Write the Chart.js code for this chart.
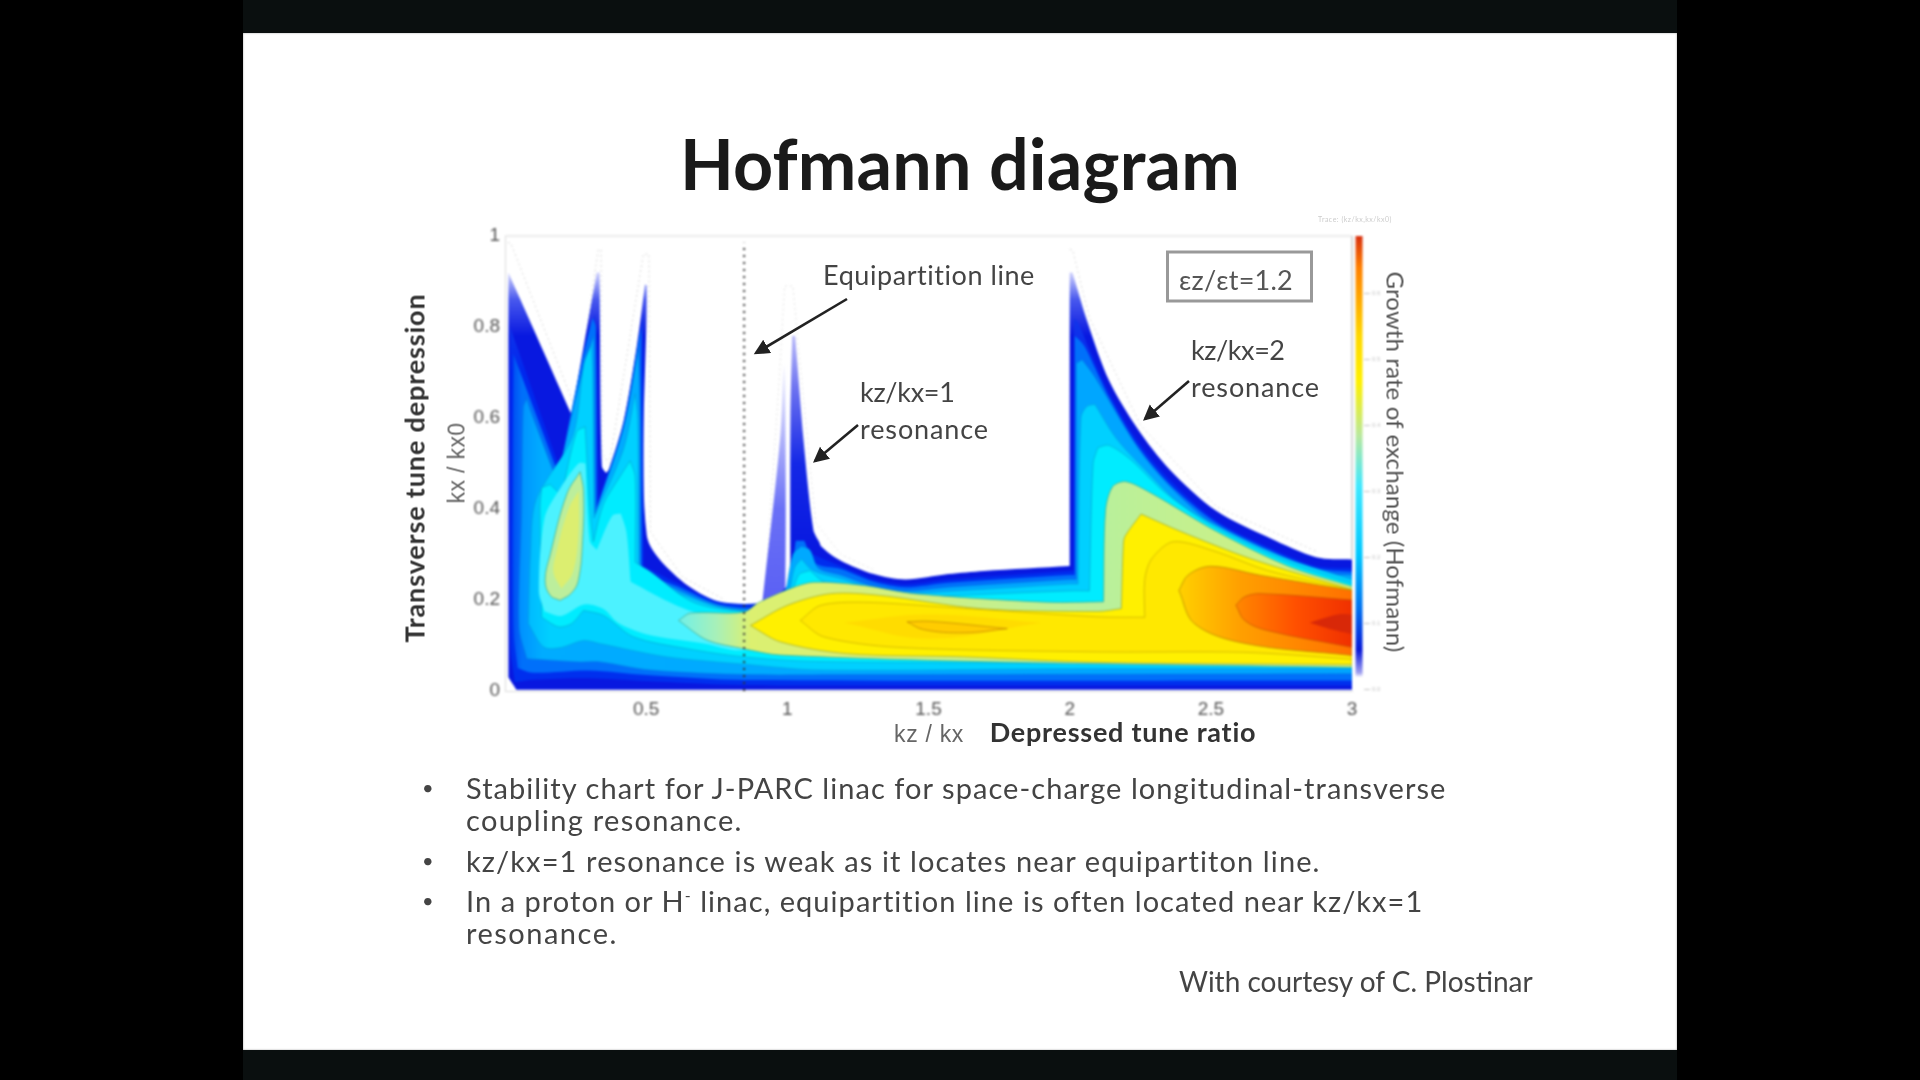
<!DOCTYPE html>
<html><head><meta charset="utf-8">
<style>
html,body{margin:0;padding:0;width:1920px;height:1080px;overflow:hidden;background:#000}
#band{position:absolute;left:243px;top:0;width:1434px;height:1080px;background:#0a0f0f}
#slide{position:absolute;left:243px;top:33px;width:1434px;height:1017px;background:#fff;box-shadow:inset 0 0 2px #999}
#c{position:absolute;left:0;top:0;filter:blur(1.1px)}
.t{position:absolute;white-space:nowrap;font-family:Lato,"Open Sans",sans-serif;color:#444;filter:blur(.5px);transform:translate(-50%,-50%)}
.l{transform:translate(0,-50%)}
.b{font-weight:700}
.rl{transform:translate(-50%,-50%) rotate(-90deg)}
.rr{transform:translate(-50%,-50%) rotate(90deg)}
#ov{position:absolute;left:0;top:0;filter:blur(.5px)}
</style></head><body>
<div id="band"></div><div id="slide"></div>
<canvas id="c" width="1920" height="1080"></canvas>
<svg id="ov" width="1920" height="1080">
 <defs><marker id="ah" markerWidth="7" markerHeight="7" refX="5" refY="3" orient="auto"><path d="M0,0 L6,3 L0,6 Z" fill="#222"/></marker></defs>
 <line x1="847" y1="299" x2="756" y2="353" stroke="#222" stroke-width="2.6" marker-end="url(#ah)"/>
 <line x1="858" y1="425" x2="815" y2="461" stroke="#222" stroke-width="2.6" marker-end="url(#ah)"/>
 <line x1="1189" y1="381" x2="1145" y2="419" stroke="#222" stroke-width="2.6" marker-end="url(#ah)"/>
 <rect x="1167.5" y="252" width="144" height="49" fill="#fff" stroke="#999" stroke-width="3"/>
</svg>
<div class="t b" data-w="560" style="left:960px;top:163px;font-size:70px;color:#1a1a1a">Hofmann diagram</div>
<div class="t b rl" data-w="349" style="left:414px;top:468px;font-size:27px;color:#333">Transverse tune depression</div>
<div class="t rl" data-w="81" style="left:457px;top:463px;font-size:23px;font-family:'Liberation Sans';color:#666">kx / kx0</div>
<div class="t" data-w="70" style="left:929px;top:734px;font-size:23px;font-family:'Liberation Sans';color:#666">kz / kx</div>
<div class="t b" data-w="267" style="left:1123px;top:731px;font-size:27px;color:#333">Depressed tune ratio</div>
<div class="t rr" data-w="381" style="left:1396px;top:462px;font-size:24px;color:#555">Growth rate of exchange (Hofmann)</div>
<div class="t" data-w="213" style="left:929px;top:274px;font-size:27px">Equipartition line</div>
<div class="t" data-w="114" style="left:1236px;top:279px;font-size:27px;color:#555">εz/εt=1.2</div>
<div class="t l" data-w="95" style="left:860px;top:391px;font-size:27px">kz/kx=1</div>
<div class="t l" data-w="129" style="left:860px;top:428px;font-size:27px">resonance</div>
<div class="t l" data-w="94" style="left:1191px;top:349px;font-size:27px">kz/kx=2</div>
<div class="t l" data-w="129" style="left:1191px;top:386px;font-size:27px">resonance</div>
<div class="t" style="left:1355px;top:219px;font-size:7px;color:#ccc;letter-spacing:.5px">Trace: (kz/kx,kx/kx0)</div>
<div class="t l" style="left:422px;top:787px;font-size:20px">•</div>
<div class="t l" style="left:422px;top:860px;font-size:20px">•</div>
<div class="t l" style="left:422px;top:900px;font-size:20px">•</div>
<div class="t l" data-w="980" style="left:466px;top:787px;font-size:29px">Stability chart for J-PARC linac for space-charge longitudinal-transverse</div>
<div class="t l" data-w="277" style="left:466px;top:819px;font-size:29px">coupling resonance.</div>
<div class="t l" data-w="855" style="left:466px;top:860px;font-size:29px">kz/kx=1 resonance is weak as it locates near equipartiton line.</div>
<div class="t l" data-w="958" style="left:466px;top:900px;font-size:29px">In a proton or H<sup style="font-size:16px;line-height:0">-</sup> linac, equipartition line is often located near kz/kx=1</div>
<div class="t l" data-w="152" style="left:466px;top:932px;font-size:29px">resonance.</div>
<div class="t l" data-w="354" style="left:1179px;top:981px;font-size:28px">With courtesy of C. Plostinar</div>
<script src="https://cdn.jsdelivr.net/npm/chart.js@4"></script>
<script>
const xTicks=[0,0.5,1,1.5,2,2.5,3];
const yTicks=[0,0.2,0.4,0.6,0.8,1];
const equipartitionX=0.847;
const barLevels=[0.6,0.5,0.4,0.3,0.2,0.1,0];

const envelope=[[.012,.03],[.012,.92],[.236,.607],[.325,.92],[.335,.92],[.343,.494],[.358,.479],[.372,.49],[.42,.592],[.467,.759],[.496,.894],[.502,.89],[.502,.343],[.62,.245],[.774,.192],[.92,.19],[.993,.22],[1.011,.24],[1.093,.351],[1.117,.32],[1.188,.287],[1.306,.257],[1.418,.245],[1.57,.257],[1.696,.264],[2.0,.275],[2.0,.92],[2.01,.92],[2.063,.811],[2.139,.683],[2.24,.577],[2.354,.487],[2.519,.396],[2.709,.336],[2.873,.294],[3,.289],[3,.003],[.04,.003]];
const paleSpike=[[.91,.185],[.975,.56],[.985,.72],[.993,.72],[.993,.235],[.98,.205],[.94,.19]];
const mainSpike=[[1.011,.23],[1.011,.6],[1.017,.78],[1.028,.78],[1.058,.547],[1.093,.351],[1.117,.32],[1.1,.28]];
const level1=[[.035,.02],[.02,.094],[.018,.32],[.018,.8],[.195,.487],[.29,.774],[.32,.83],[.331,.419],[.42,.592],[.473,.774],[.49,.83],[.491,.275],[.609,.238],[.762,.196],[.94,.196],[.987,.223],[1.01,.238],[1.09,.3],[1.188,.275],[1.306,.245],[1.418,.234],[1.57,.245],[2.0,.264],[2.015,.264],[2.015,.82],[2.03,.81],[2.07,.75],[2.14,.655],[2.24,.55],[2.354,.465],[2.519,.375],[2.709,.315],[2.873,.275],[3,.27],[3,.012],[1.3,.012],[.85,.013],[.5,.022],[.3,.028],[.1,.025]];
const level2=[[.045,.05],[.03,.13],[.028,.5],[.03,.74],[.19,.475],[.27,.72],[.31,.82],[.322,.8],[.325,.4],[.42,.585],[.47,.76],[.482,.8],[.485,.26],[.61,.23],[.76,.19],[.94,.185],[.985,.215],[1.01,.25],[1.03,.33],[1.06,.33],[1.1,.28],[1.19,.268],[1.306,.24],[1.418,.228],[1.57,.238],[2,.255],[2.018,.255],[2.018,.78],[2.05,.76],[2.09,.71],[2.14,.645],[2.24,.54],[2.354,.455],[2.519,.37],[2.709,.31],[2.873,.27],[3,.262],[3,.023],[.85,.024],[.5,.035],[.3,.045],[.1,.04]];
const level3=[[.077,.071],[.05,.14],[.059,.396],[.065,.623],[.077,.642],[.095,.608],[.185,.46],[.26,.668],[.313,.78],[.315,.76],[.319,.389],[.42,.577],[.473,.751],[.478,.6],[.478,.351],[.479,.262],[.62,.22],[.77,.185],[.94,.178],[.985,.2],[1.02,.3],[1.05,.318],[1.08,.31],[1.11,.27],[1.188,.255],[1.306,.23],[1.42,.22],[1.57,.228],[2,.245],[2.024,.245],[2.024,.72],[2.044,.728],[2.089,.69],[2.24,.535],[2.354,.45],[2.519,.36],[2.709,.3],[2.873,.26],[3,.255],[3,.038],[1.2,.036],[.857,.036],[.514,.046],[.337,.064],[.266,.064]];
const level4=[[.083,.148],[.09,.3],[.11,.42],[.24,.56],[.28,.72],[.305,.76],[.31,.7],[.315,.38],[.42,.532],[.461,.653],[.47,.6],[.473,.321],[.473,.25],[.656,.205],[.774,.182],[.96,.175],[1,.2],[1.025,.27],[1.05,.29],[1.09,.265],[1.2,.245],[1.3,.225],[1.42,.215],[1.6,.22],[2,.235],[2.03,.235],[2.04,.6],[2.06,.625],[2.089,.63],[2.165,.555],[2.266,.487],[2.392,.411],[2.582,.343],[2.772,.29],[3,.245],[3,.049],[2,.049],[1.117,.046],[.845,.059],[.573,.075],[.337,.104],[.278,.111],[.195,.095],[.136,.097]];
const level5=[[.13,.162],[.124,.404],[.13,.447],[.16,.454],[.2,.43],[.254,.57],[.284,.581],[.301,.396],[.313,.328],[.349,.411],[.408,.472],[.443,.506],[.461,.472],[.461,.283],[.52,.26],[.65,.2],[.76,.18],[.93,.175],[1,.19],[1.04,.255],[1.08,.265],[1.13,.24],[1.3,.215],[1.42,.205],[1.6,.21],[2,.22],[2.07,.22],[2.083,.5],[2.1,.535],[2.139,.54],[2.215,.509],[2.342,.434],[2.519,.358],[2.772,.283],[3,.236],[3,.058],[2,.061],[1.1,.065],[.845,.075],[.644,.093],[.455,.119],[.349,.166],[.278,.177],[.236,.148],[.189,.141]];
const level6=[[.14,.175],[.12,.22],[.14,.38],[.19,.44],[.26,.5],[.285,.5],[.3,.33],[.325,.31],[.38,.385],[.41,.39],[.43,.35],[.445,.24],[.6,.19],[.7,.17],[.9,.175],[.95,.13],[.845,.09],[.7,.105],[.5,.125],[.4,.15],[.349,.18],[.28,.19],[.2,.165]];
const lobeOuter=[[.266,.482],[.219,.433],[.16,.3],[.142,.243],[.16,.21],[.195,.199],[.235,.215],[.26,.243],[.275,.331],[.278,.44]];
const lobeInner=[[.262,.44],[.225,.4],[.18,.3],[.172,.26],[.2,.225],[.24,.26],[.26,.34]];
const paleBand=[[.615,.155],[.656,.171],[.845,.173],[.9,.195],[1.01,.225],[1.093,.239],[1.27,.232],[1.448,.214],[1.92,.195],[2.12,.196],[2.127,.396],[2.152,.449],[2.2,.46],[2.291,.434],[2.519,.351],[2.772,.275],[3,.23],[3,.052],[1.8,.063],[.975,.079],[.845,.093],[.715,.112]];
const yellowBand=[[.869,.144],[.999,.188],[1.153,.214],[1.33,.21],[1.684,.181],[2.1,.175],[2.183,.181],[2.19,.32],[2.196,.34],[2.253,.389],[2.392,.351],[2.645,.29],[3,.223],[3,.058],[2.1,.063],[1.625,.075],[1.21,.082],[.975,.108]];
const yellowInner=[[1.046,.155],[1.117,.188],[1.27,.195],[1.566,.184],[2.1,.163],[2.266,.162],[2.266,.245],[2.29,.29],[2.367,.328],[2.519,.306],[2.7,.265],[3,.222],[3,.07],[2.617,.085],[2.1,.086],[1.389,.096],[1.129,.119]];
const coreGlow=[[1.2,.15],[1.5,.168],[1.9,.15],[1.5,.115]];
const coreEllipse=[[1.424,.152],[1.507,.153],[1.779,.137],[1.626,.128],[1.483,.135]];
const orangeBand=[[2.387,.221],[2.42,.255],[2.5,.274],[2.677,.254],[3,.221],[3,.078],[2.617,.105],[2.442,.148]];
const redBand=[[2.589,.189],[2.62,.207],[2.677,.214],[3,.2],[3,.096],[2.7,.133],[2.62,.155]];
const redCore=[[2.85,.15],[2.95,.168],[3,.168],[3,.125],[2.93,.135]];
const guideA=[[.01,.985],[.02,.985],[.25,.62],[.33,.97],[.34,.97],[.345,.52],[.37,.5],[.49,.96],[.51,.96],[.515,.35],[.63,.25],[.78,.2]];
const guideB=[[.92,.2],[.975,.72],[.99,.89],[1.02,.89],[1.04,.75],[1.1,.37],[1.19,.3],[1.31,.265]];
const guideC=[[2,.97],[2.01,.97],[2.07,.82],[2.25,.585],[2.52,.405],[2.88,.305]];
const frameTop=[[0,1],[3,1]];
const frameRight=[[3,1],[3,.29]];

const grad=(dir,stops)=>ctx=>{
  const ch=ctx.chart,sc=dir==='x'?ch.scales.x:ch.scales.y;
  if(!ch.chartArea||!sc) return stops[0][1];
  const a=sc.getPixelForValue(stops[0][0]),b=sc.getPixelForValue(stops[stops.length-1][0]);
  const g=dir==='x'?ch.ctx.createLinearGradient(a,0,b,0):ch.ctx.createLinearGradient(0,a,0,b);
  stops.forEach(s=>g.addColorStop((s[0]-stops[0][0])/(stops[stops.length-1][0]-stops[0][0]),s[1]));
  return g;
};
const pts=a=>{
  const out=[],n=a.length;
  for(let i=0;i<n;i++){
    const p=a[(i+n-1)%n],c=a[i],q=a[(i+1)%n];
    const u=[(c[0]-p[0])*282,(c[1]-p[1])*456],v=[(q[0]-c[0])*282,(q[1]-c[1])*456];
    const ang=Math.abs(Math.atan2(u[0]*v[1]-u[1]*v[0],u[0]*v[0]+u[1]*v[1]))*180/Math.PI;
    out.push({x:c[0],y:c[1]});
    if(ang>55) out.push({x:c[0],y:c[1]});
  }
  out.push({x:a[0][0],y:a[0][1]});
  return out;
};
const band=(arr,fill,line,tension=.3)=>({data:pts(arr),backgroundColor:fill,borderColor:line||'transparent',borderWidth:line?.8:0,fill:'shape',tension,showLine:true,pointRadius:0});
const open=(arr,color,dash,w)=>({data:arr.map(p=>({x:p[0],y:p[1]})),borderColor:color,borderDash:dash,borderWidth:w,fill:false,showLine:true,pointRadius:0,clip:false});

const list=[
 open(frameTop,'#e6e6e6',[],1.5),open(frameRight,'#d8d8d8',[],2),
 open(guideA,'#d8d8d8',[2,3],1),open(guideB,'#e2e2e2',[2,3],1),open(guideC,'#d8d8d8',[2,3],1),
 band(paleSpike,grad('y',[[.72,'#ffffff'],[.6,'#c4c6fb'],[.4,'#6a70f6'],[.19,'#5a60f4']])),
 band(envelope,grad('y',[[.93,'#e8e8ff'],[.86,'#4858ee'],[.78,'#0818e0'],[0,'#0818e0']])),
 band(mainSpike,grad('y',[[.8,'#c8c8fa'],[.66,'#6a70f0'],[.5,'#1428e6'],[.3,'#0818e0']])),
 band(level1,grad('y',[[.85,'#1838e8'],[.7,'#0028ee'],[0,'#0030ee']])),
 band(level2,grad('x',[[.03,'#0050f4'],[.06,'#0070fa'],[3,'#0070fa']])),
 band(level3,grad('x',[[.05,'#0090ff'],[.13,'#00acff'],[3,'#00a4ff']]),'rgba(0,120,220,.6)'),
 band(level4,grad('x',[[.09,'#00bcff'],[.16,'#00d0ff'],[3,'#00d0ff']]),'rgba(0,150,210,.6)'),
 band(level5,'#00ecff','rgba(0,160,200,.7)'),
 band(level6,'#4cf2ff'),
 band(lobeOuter,'#bcee9c','rgba(60,160,130,.85)',.4),
 band(lobeInner,'#dcee70',null,.4),
 band(paleBand,grad('x',[[.615,'#70f0e8'],[.75,'#a8f0b8'],[.87,'#dcf070'],[1.2,'#d8f078'],[2.1,'#b8f09c'],[3,'#d8f078']]),'rgba(60,160,130,.85)'),
 band(yellowBand,'#fff000','rgba(150,160,50,.85)'),
 band(yellowInner,'#ffe800','rgba(190,160,0,.75)'),
 band(coreGlow,'#ffdc00',null,.4),
 band(coreEllipse,'#ffcc00','rgba(190,130,0,.9)',.4),
 band(orangeBand,grad('x',[[2.39,'#ffd000'],[2.6,'#ffa000'],[3,'#ff7000']]),'rgba(170,120,0,.8)',.35),
 band(redBand,grad('x',[[2.59,'#ff8800'],[2.8,'#ff5000'],[3,'#f03000']]),'rgba(190,80,0,.8)',.35),
 band(redCore,'#d82808',null,.4),
 open([[equipartitionX,0],[equipartitionX,.985]],'#333',[2,5],2),
 open([[3.025,1],[3.025,.03]],grad('y',[[1,'#d83010'],[.93,'#ff8000'],[.78,'#ffd800'],[.68,'#fff000'],[.56,'#b8e8a0'],[.45,'#40e8ff'],[.3,'#00c8ff'],[.18,'#0070f0'],[.09,'#0818d8'],[.04,'#a0a0f0'],[.03,'#ffffff']]),[],7)
];
list.forEach((d,i)=>{d.order=list.length-i;});
const barTickPlugin={id:'barTicks',afterDraw(ch){
  const c=ch.ctx;c.save();c.font='6px "Liberation Sans"';c.fillStyle='#c4c4c4';
  const top=295,step=66;
  barLevels.forEach((v,i)=>{c.fillText(v===0?'0.0':String(v),1372,top+i*step);c.fillRect(1364,top-2+i*step,6,1);});
  c.restore();
}};
new Chart(document.getElementById('c'),{type:'scatter',data:{datasets:list},plugins:[barTickPlugin],options:{
 responsive:false,animation:false,
 layout:{padding:{left:445,right:568,top:236,bottom:359}},
 plugins:{legend:{display:false},tooltip:{enabled:false}},
 scales:{
  x:{type:'linear',min:0,max:3,afterBuildTicks:s=>{s.ticks=xTicks.map(v=>({value:v}));},afterFit:s=>{s.height=30;},grid:{display:false,drawTicks:false},border:{color:'#dcdcdc'},
     ticks:{color:'#555',font:{size:19,family:'Liberation Sans'},padding:7,maxRotation:0,callback:v=>v===0?'':String(v)}},
  y:{type:'linear',min:0,max:1,afterBuildTicks:s=>{s.ticks=yTicks.map(v=>({value:v}));},afterFit:s=>{s.width=60;},grid:{display:false,drawTicks:false},border:{color:'#dcdcdc'},
     ticks:{color:'#555',font:{size:19,family:'Liberation Sans'},padding:5,callback:v=>String(v)}}
 }
}});
document.querySelectorAll('[data-w]').forEach(el=>{
  const n=el.textContent.length,m=el.offsetWidth;
  el.style.letterSpacing=((+el.dataset.w-m)/n).toFixed(3)+'px';
});
</script>
</body></html>
